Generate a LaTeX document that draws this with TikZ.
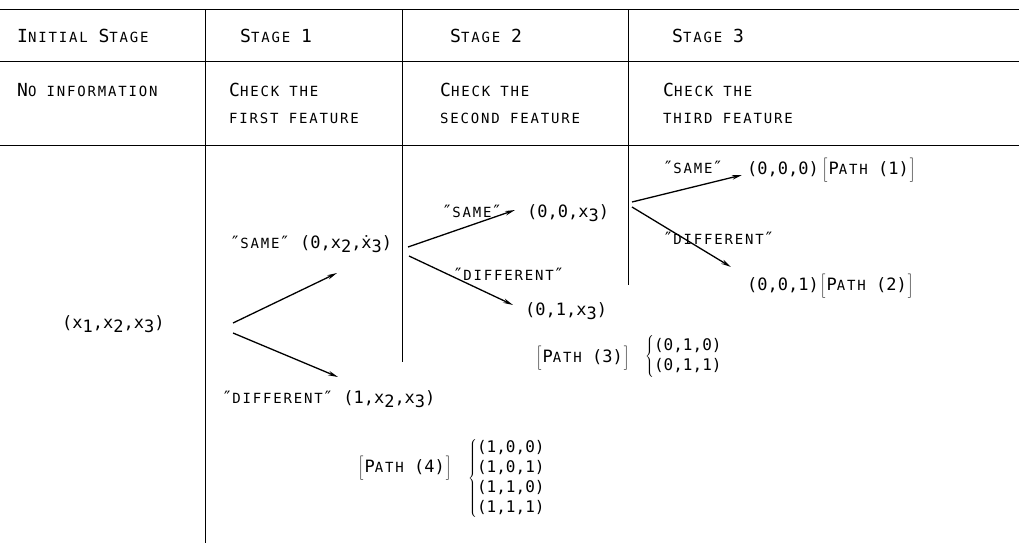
\documentclass[tikz,border=0pt]{standalone}
\usepackage{fontspec}
\usetikzlibrary{arrows.meta}
\setmainfont{DejaVu Sans Mono}
\newfontfamily\scfont[LetterSpace=13]{DejaVu Sans Mono}
\newcommand\sm[1]{{\fontsize{14}{16}\scfont #1}}
\newcommand\xs[1]{x\raisebox{-4.5pt}{#1}}
\newcommand\lbr{$\left[\vrule height 17pt depth 9pt width 0pt\right.$}
\newcommand\rbr{$\left.\vrule height 17pt depth 9pt width 0pt\right]$}
\newcommand\pth[1]{\lbr P\sm{ATH} (#1)\rbr}
\tikzset{
  hd/.style={anchor=base west, inner sep=0pt, font=\fontsize{18}{20}\selectfont},
  txt/.style={anchor=base west, inner sep=0pt, font=\fontsize{17}{20}\selectfont},
  tup/.style={anchor=west, inner sep=0pt, font=\fontsize{16}{20}\selectfont},
  grid/.style={line width=1pt},
  arr/.style={line width=1.3pt, -{Stealth[length=10pt,width=4.5pt]}}
}
\begin{document}
\begin{tikzpicture}[x=1pt,y=-1pt]
\useasboundingbox (0,0) rectangle (1019,543);
\fill[white] (0,0) rectangle (1019,543);
% table rules
\draw[grid] (0,10) -- (1019,10);
\draw[grid] (0,62) -- (1019,62);
\draw[grid] (0,145) -- (1019,145);
\draw[grid] (205,10) -- (205,543);
\draw[grid] (402,10) -- (402,362);
\draw[grid] (628,10) -- (628,285);
% headers
\node[hd] (h0) at (17,42) {I\sm{NITIAL} S\sm{TAGE}};
\node[hd] (h1) at (240,42) {S\sm{TAGE} 1};
\node[hd] (h2) at (450,42) {S\sm{TAGE} 2};
\node[hd] (h3) at (672,42) {S\sm{TAGE} 3};
\node[hd] (d0) at (17,96) {N\sm{O INFORMATION}};
\node[hd] (d1a) at (229,96) {C\sm{HECK THE}};
\node[hd] (d1b) at (229,123) {\sm{FIRST FEATURE}};
\node[hd] (d2a) at (440,96) {C\sm{HECK THE}};
\node[hd] (d2b) at (440,123) {\sm{SECOND FEATURE}};
\node[hd] (d3a) at (663,96) {C\sm{HECK THE}};
\node[hd] (d3b) at (663,123) {\sm{THIRD FEATURE}};
% tree
\node[txt] (root) at (62,328) {(\xs1,\xs2,\xs3)};
\node[txt] (s1) at (230,248) {″\sm{SAME}″ (0,\xs2,ẋ\raisebox{-4.5pt}{3})};
\node[txt] (f1) at (222,403) {″\sm{DIFFERENT}″ (1,\xs2,\xs3)};
\node[txt] (s2l) at (442,217) {″\sm{SAME}″};
\node[txt] (s2) at (527,217) {(0,0,\xs3)};
\node[txt] (f2l) at (453,280) {″\sm{DIFFERENT}″};
\node[txt] (f2) at (525,315) {(0,1,\xs3)};
\node[txt] (s3l) at (663,173) {″\sm{SAME}″};
\node[txt] (s3) at (747,174) {(0,0,0)};
\node[txt] (p1) at (822,174) {\pth{1}};
\node[txt] (f3l) at (663,244) {″\sm{DIFFERENT}″};
\node[txt] (f3) at (747,290) {(0,0,1)};
\node[txt] (p2) at (820,290) {\pth{2}};
\node[txt] (p3) at (536,362) {\pth{3}};
\node[tup] (t3) at (645,356) {$\left\{\begin{tabular}{@{}l@{}}(0,1,0)\\(0,1,1)\end{tabular}\right.$};
\node[txt] (p4) at (358,472) {\pth{4}};
\node[tup] (t4) at (468,478) {$\left\{\begin{tabular}{@{}l@{}}(1,0,0)\\(1,0,1)\\(1,1,0)\\(1,1,1)\end{tabular}\right.$};
% arrows
\coordinate (r1) at (233,323); \coordinate (e1) at (337,273);
\coordinate (r2) at (233,333); \coordinate (e2) at (338,377);
\coordinate (u1) at (408,247); \coordinate (v1) at (515,210);
\coordinate (u2) at (409,256); \coordinate (v2) at (513,305);
\coordinate (w1) at (632,202); \coordinate (z1) at (742,175);
\coordinate (w2) at (632,207); \coordinate (z2) at (731,267);
\draw[arr] (r1) -- (e1);
\draw[arr] (r2) -- (e2);
\draw[arr] (u1) -- (v1);
\draw[arr] (u2) -- (v2);
\draw[arr] (w1) -- (z1);
\draw[arr] (w2) -- (z2);
\end{tikzpicture}
\end{document}
